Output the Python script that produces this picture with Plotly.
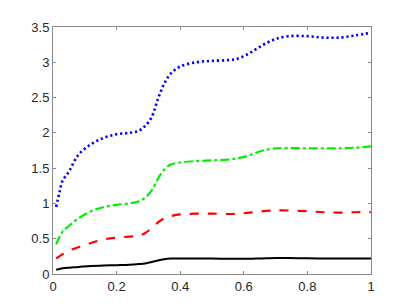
import plotly.graph_objects as go

x = [0.01, 0.02, 0.03, 0.05, 0.08, 0.12, 0.16, 0.2, 0.24, 0.27, 0.29, 0.31, 0.33,
     0.35, 0.37, 0.4, 0.45, 0.5, 0.55, 0.58, 0.61, 0.64, 0.67, 0.7, 0.74, 0.8,
     0.85, 0.9, 0.95, 1.0]
blue = [0.95, 1.15, 1.32, 1.45, 1.69, 1.84, 1.93, 1.98, 2.0, 2.03, 2.1, 2.22, 2.48,
        2.7, 2.84, 2.94, 3.0, 3.02, 3.03, 3.05, 3.11, 3.19, 3.27, 3.33, 3.37, 3.37,
        3.35, 3.35, 3.38, 3.42]
green = [0.42, 0.52, 0.6, 0.68, 0.79, 0.89, 0.95, 0.98, 1.0, 1.03, 1.08, 1.18, 1.35,
         1.48, 1.55, 1.58, 1.6, 1.61, 1.62, 1.64, 1.67, 1.72, 1.76, 1.78, 1.785, 1.78,
         1.78, 1.78, 1.79, 1.81]
red = [0.22, 0.25, 0.28, 0.33, 0.38, 0.44, 0.49, 0.515, 0.53, 0.54, 0.58, 0.65, 0.73,
       0.79, 0.82, 0.845, 0.855, 0.855, 0.85, 0.855, 0.865, 0.88, 0.895, 0.9, 0.9,
       0.89, 0.875, 0.87, 0.875, 0.875]
black = [0.06, 0.07, 0.08, 0.09, 0.1, 0.115, 0.12, 0.125, 0.13, 0.14, 0.15, 0.17, 0.19,
         0.21, 0.22, 0.22, 0.22, 0.22, 0.215, 0.215, 0.215, 0.22, 0.222, 0.225, 0.225,
         0.222, 0.22, 0.22, 0.22, 0.22]

series = [
    (black, "black", "solid", 2.0),
    (red, "red", "dash", 2.2),
    (green, "#00ee00", "dashdot", 2.2),
    (blue, "blue", "2.2px,2.8px", 2.6),
]

fig = go.Figure()
for ys, col, dash, w in series:
    fig.add_trace(go.Scatter(x=x, y=ys, mode="lines",
                             line=dict(color=col, dash=dash, width=w, shape="spline",
                                       smoothing=1.0),
                             showlegend=False))

axis_common = dict(showgrid=False, zeroline=False, showline=True, linecolor="#8a8a8a",
                   linewidth=1, mirror="ticks", ticks="inside", ticklen=3,
                   tickcolor="#8a8a8a",
                   tickfont=dict(family="Liberation Sans, Arial, sans-serif", size=13,
                                 color="#262626"))

fig.update_layout(
    width=403, height=300,
    margin=dict(l=45, r=40, t=15, b=34),
    paper_bgcolor="white", plot_bgcolor="white",
    xaxis=dict(range=[0, 1], tickvals=[0, 0.2, 0.4, 0.6, 0.8, 1],
               ticktext=["0", "0.2", "0.4", "0.6", "0.8", "1"], **axis_common),
    yaxis=dict(range=[0, 3.5], tickvals=[0, 0.5, 1, 1.5, 2, 2.5, 3, 3.5],
               ticktext=["0", "0.5", "1", "1.5", "2", "2.5", "3", "3.5"], **axis_common),
)

fig.write_html("out.html")
